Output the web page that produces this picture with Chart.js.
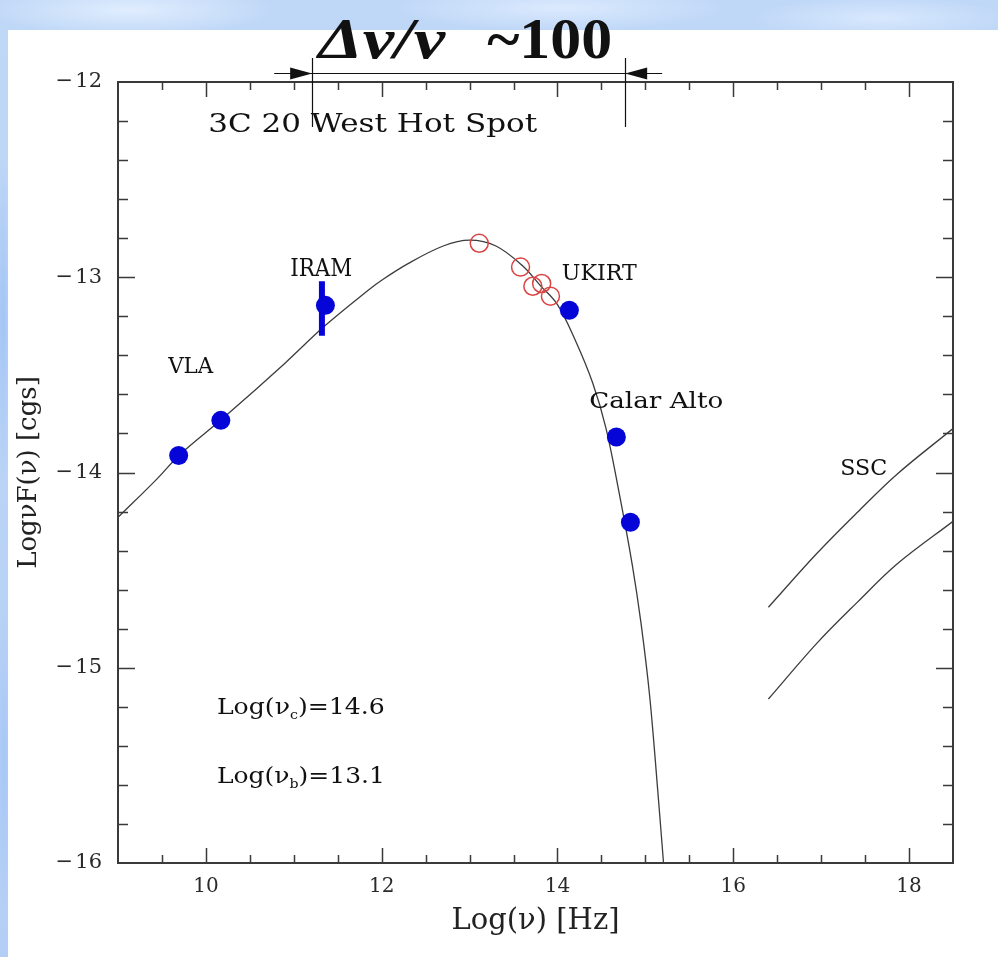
<!DOCTYPE html>
<html>
<head>
<meta charset="utf-8">
<title>3C 20 West Hot Spot</title>
<script src="https://cdn.jsdelivr.net/npm/chart.js@4.4.1/dist/chart.umd.min.js"></script>
<style>
  html, body { margin: 0; padding: 0; }
  body {
    width: 998px; height: 957px; position: relative; overflow: hidden;
    background:
      radial-gradient(ellipse 190px 34px at 130px 10px, rgba(228,240,255,0.9), rgba(228,240,255,0) 75%),
      radial-gradient(ellipse 220px 30px at 560px 8px, rgba(224,237,255,0.85), rgba(224,237,255,0) 75%),
      radial-gradient(ellipse 170px 28px at 880px 18px, rgba(220,235,255,0.85), rgba(220,235,255,0) 75%),
      radial-gradient(ellipse 12px 220px at 3px 320px, rgba(160,195,245,0.9), rgba(160,195,245,0) 75%),
      radial-gradient(ellipse 12px 200px at 4px 760px, rgba(165,198,245,0.9), rgba(165,198,245,0) 75%),
      linear-gradient(180deg, #c0d8f7, #b4cff5);
  }
  #pannello { position: absolute; left: 8px; top: 30px; right: 0; bottom: 0; background: #fff; }
  #grafico { position: absolute; left: 0; top: 0; }
</style>
</head>
<body>
<div id="pannello"></div>
<canvas id="grafico" width="998" height="957"></canvas>
<script>
// curva del modello
const modelloX = [9.0, 9.45, 9.7, 10.2, 10.9, 11.35, 11.85, 12.0, 12.3, 12.7, 13.0, 13.3, 13.6, 13.8, 14.0, 14.2, 14.4, 14.55, 14.7, 14.85, 14.95, 15.05, 15.15, 15.21];
const modelloY = [-14.23, -14.03, -13.91, -13.72, -13.44, -13.25, -13.065, -13.015, -12.93, -12.84, -12.81, -12.84, -12.94, -13.04, -13.14, -13.32, -13.54, -13.77, -14.10, -14.47, -14.77, -15.15, -15.68, -16.02];

// punti blu (VLA, IRAM, UKIRT, Calar Alto)
const puntiX = [9.69, 10.17, 11.36, 14.135, 14.67, 14.83];
const puntiY = [-13.913, -13.733, -13.144, -13.169, -13.818, -14.255];

// cerchi rossi
const cerchiX = [13.11, 13.58, 13.72, 13.82, 13.92];
const cerchiY = [-12.826, -12.948, -13.046, -13.032, -13.097];

// barra d'errore IRAM
const erroreX = [11.32, 11.32];
const erroreY = [-13.02, -13.30];

// curve SSC
const sscX = [16.40, 16.95, 17.41, 17.86, 18.5];
const sscAltoY = [-14.69, -14.415, -14.205, -14.01, -13.775];
const sscBassoY = [-15.16, -14.875, -14.665, -14.47, -14.25];

const tickX = [10, 12, 14, 16, 18];
const tickY = [-12, -13, -14, -15, -16];

const coppie = (xs, ys) => xs.map((v, i) => ({ x: v, y: ys[i] }));
const serif = s => s + 'px "DejaVu Serif"';

const etichette = [
  { parti: [{ t: 'Δν/ν', font: 'italic bold 57px "Liberation Serif"' }], x: 11.278, y: -11.877, w: 127 },
  { parti: [{ t: '~100', font: 'bold 57px "Liberation Serif"' }], x: 13.2, y: -11.877, w: 125 },
  { parti: [{ t: '3C 20 West Hot Spot', font: serif(26) }], x: 10.026, y: -12.256, w: 329 },
  { parti: [{ t: 'IRAM', font: serif(24) }], x: 10.959, y: -12.995, w: 62 },
  { parti: [{ t: 'VLA', font: serif(23) }], x: 9.571, y: -13.491, w: 45 },
  { parti: [{ t: 'UKIRT', font: serif(23) }], x: 14.05, y: -13.015, w: 75 },
  { parti: [{ t: 'Calar Alto', font: serif(22) }], x: 14.361, y: -13.672, w: 134 },
  { parti: [{ t: 'SSC', font: serif(23) }], x: 17.216, y: -14.015, w: 47 },
  { parti: [{ t: 'Log(ν', font: serif(23) }, { t: 'c', font: serif(13), dy: 5 }, { t: ')=14.6', font: serif(23) }], x: 10.125, y: -15.237, w: 168 },
  { parti: [{ t: 'Log(ν', font: serif(23) }, { t: 'b', font: serif(13), dy: 5 }, { t: ')=13.1', font: serif(23) }], x: 10.125, y: -15.588, w: 168 }
];

// frecce Δν/ν
const frecce = { y: -11.954, da: 10.777, a: 15.191, sinistra: 11.209, destra: 14.770, lineaTop: -11.877, lineaBottom: -12.231 };

function scriviTesto(ctx, parti, px, py, larghezza) {
  let tot = 0;
  parti.forEach(p => { ctx.font = p.font; p.w = ctx.measureText(p.t).width; tot += p.w; });
  ctx.save();
  ctx.translate(px, py);
  ctx.scale(larghezza / tot, 1);
  let cx = 0;
  parti.forEach(p => { ctx.font = p.font; ctx.fillText(p.t, cx, p.dy || 0); cx += p.w; });
  ctx.restore();
}

const cornice = {
  id: 'cornice',
  afterDatasetsDraw(chart) {
    const { ctx, chartArea: a, scales: { x, y } } = chart;
    ctx.save();
    ctx.strokeStyle = '#3a3a3a';
    ctx.lineWidth = 1.5;
    ctx.beginPath();
    for (let i = 19; i < 37; i++) {
      const v = i / 2;
      const px = Math.round(x.getPixelForValue(v)) + 0.5;
      const len = (i % 4 === 0) ? 15 : 8;
      ctx.moveTo(px, a.bottom); ctx.lineTo(px, a.bottom - len);
      ctx.moveTo(px, a.top); ctx.lineTo(px, a.top + len);
    }
    for (let i = -79; i < -60; i++) {
      const py = Math.round(y.getPixelForValue(i / 5)) + 0.5;
      const len = (i % 5 === 0) ? 17 : 10;
      ctx.moveTo(a.left, py); ctx.lineTo(a.left + len, py);
      ctx.moveTo(a.right, py); ctx.lineTo(a.right - len, py);
    }
    ctx.stroke();
    ctx.lineWidth = 2;
    ctx.strokeRect(a.left, a.top, a.right - a.left, a.bottom - a.top);
    ctx.restore();
  },
  afterDraw(chart) {
    const { ctx, scales: { x, y } } = chart;
    ctx.save();
    ctx.fillStyle = '#111';
    ctx.textBaseline = 'alphabetic';
    etichette.forEach(e => scriviTesto(ctx, e.parti, x.getPixelForValue(e.x), y.getPixelForValue(e.y), e.w));

    // frecce
    const fy = Math.round(y.getPixelForValue(frecce.y)) + 0.5;
    const xs = x.getPixelForValue(frecce.sinistra), xd = x.getPixelForValue(frecce.destra);
    ctx.strokeStyle = '#111';
    ctx.lineWidth = 1.2;
    ctx.beginPath();
    ctx.moveTo(x.getPixelForValue(frecce.da), fy); ctx.lineTo(x.getPixelForValue(frecce.a), fy);
    [xs, xd].forEach(px => {
      ctx.moveTo(Math.round(px) + 0.5, y.getPixelForValue(frecce.lineaTop));
      ctx.lineTo(Math.round(px) + 0.5, y.getPixelForValue(frecce.lineaBottom));
    });
    ctx.stroke();
    ctx.beginPath();
    ctx.moveTo(xs, fy); ctx.lineTo(xs - 22, fy - 6); ctx.lineTo(xs - 22, fy + 6); ctx.closePath();
    ctx.moveTo(xd, fy); ctx.lineTo(xd + 22, fy - 6); ctx.lineTo(xd + 22, fy + 6); ctx.closePath();
    ctx.fill();
    ctx.restore();
  }
};

const linea = (label, xs, ys, ordine) => ({
  label: label,
  type: 'line',
  data: coppie(xs, ys),
  showLine: true,
  borderColor: '#3c3c3c',
  borderWidth: 1.3,
  pointRadius: 0,
  tension: 0.35,
  order: ordine
});

const ctx = document.getElementById('grafico').getContext('2d');
const grafico = new Chart(ctx, {
  type: 'scatter',
  data: {
    datasets: [
      {
        label: 'Dati',
        data: coppie(puntiX, puntiY),
        pointRadius: 9.5,
        pointBackgroundColor: '#0505d8',
        pointBorderColor: '#0505d8',
        pointBorderWidth: 0,
        order: 1
      },
      {
        label: 'UKIRT',
        data: coppie(cerchiX, cerchiY),
        pointRadius: 9,
        pointBackgroundColor: 'rgba(0,0,0,0)',
        pointBorderColor: '#d94444',
        pointBorderWidth: 1.5,
        order: 2
      },
      {
        label: 'Errore IRAM',
        type: 'line',
        data: coppie(erroreX, erroreY),
        showLine: true,
        borderColor: '#0505d8',
        borderWidth: 6,
        borderCapStyle: 'butt',
        pointRadius: 0,
        order: 3
      },
      linea('Modello', modelloX, modelloY, 4),
      linea('SSC alto', sscX, sscAltoY, 5),
      linea('SSC basso', sscX, sscBassoY, 6)
    ]
  },
  options: {
    responsive: false,
    animation: false,
    devicePixelRatio: 1,
    layout: { padding: { top: 82, right: 45, left: 0, bottom: 0 } },
    plugins: { legend: { display: false }, tooltip: { enabled: false } },
    scales: {
      x: {
        type: 'linear',
        min: 9,
        max: 18.5,
        afterBuildTicks: s => { s.ticks = tickX.map(v => ({ value: v })); },
        afterFit: s => { s.height = 94; },
        grid: { display: false, drawTicks: false },
        border: { display: false },
        ticks: { color: '#2a2a2a', font: { family: 'DejaVu Serif', size: 20 }, padding: 12, maxRotation: 0, autoSkip: false },
        title: { display: true, text: 'Log(ν) [Hz]', color: '#222', font: { family: 'DejaVu Serif', size: 29 }, padding: { top: 0, bottom: 18 } }
      },
      y: {
        type: 'linear',
        min: -16,
        max: -12,
        afterBuildTicks: s => { s.ticks = tickY.map(v => ({ value: v })); },
        afterFit: s => { s.width = 118; },
        grid: { display: false, drawTicks: false },
        border: { display: false },
        ticks: { color: '#2a2a2a', font: { family: 'DejaVu Serif', size: 21 }, padding: 16, autoSkip: false,
          callback: v => '\u2212\u200A' + Math.abs(v) },
        title: { display: true, text: 'LogνF(ν) [cgs]', color: '#222', font: { family: 'DejaVu Serif', size: 26 }, padding: { top: 14, bottom: 0 } }
      }
    }
  },
  plugins: [cornice]
});
</script>
</body>
</html>
